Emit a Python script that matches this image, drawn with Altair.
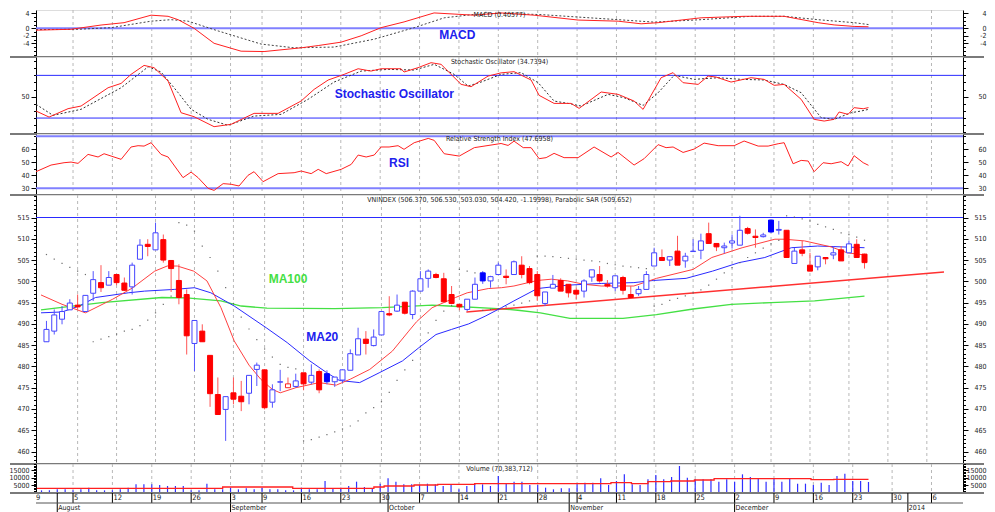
import json
import altair as alt
import pandas as pd

FONT = "Liberation Sans Narrow, DejaVu Sans Condensed, Liberation Sans, Arial, sans-serif"

# ---------------- data (trading-day index: 0 = Mon 29 Jul 2013) ----------------
days = list(range(1, 107))
opens = [485.8, 488.3, 491.1, 493.3, 494.4, 492.9, 497.2, 499.7, 499.1, 501.6,
         499.6, 498.7, 505.2, 508.7, 507.4, 509.8, 504.9, 500.2, 496.9, 485.4,
         488.3, 482.6, 473.4, 469.9, 473.8, 473.0, 473.7, 479.3, 479.2, 471.6,
         476.3, 475.0, 475.3, 478.5, 476.3, 478.8, 478.3, 476.4, 476.8, 479.1,
         482.7, 486.4, 484.9, 487.4, 492.4, 493.0, 495.1, 492.2, 497.7, 500.7,
         501.6, 500.6, 496.9, 494.6, 493.4, 495.8, 502.0, 500.1, 501.6, 501.2,
         501.6, 503.8, 503.0, 501.6, 494.8, 498.4, 500.2, 499.3, 497.9, 497.7,
         501.0, 501.6, 499.3, 498.5, 500.9, 496.9, 497.1, 498.1, 503.6, 505.6,
         505.0, 507.1, 504.8, 507.0, 507.3, 511.2, 508.9, 507.9, 509.0, 508.5,
         512.4, 510.6, 510.5, 514.4, 512.0, 512.0, 504.2, 507.4, 503.8, 503.4,
         505.6, 506.2, 507.4, 506.7, 508.7, 506.4]
highs = [490.7, 493.4, 494.2, 495.8, 496.9, 496.7, 502.4, 503.8, 502.4, 501.6,
         500.9, 504.4, 509.9, 509.9, 513.8, 511.0, 505.0, 504.0, 498.1, 490.8,
         489.9, 482.6, 477.4, 472.9, 477.4, 476.6, 477.9, 480.9, 479.2, 475.8,
         479.2, 477.4, 478.3, 478.5, 480.5, 479.3, 479.1, 477.5, 479.2, 484.0,
         489.1, 488.3, 488.7, 492.9, 496.5, 496.9, 495.1, 497.9, 502.4, 502.8,
         502.0, 502.0, 498.9, 494.6, 495.8, 500.9, 502.4, 501.3, 504.4, 502.8,
         504.9, 505.9, 503.6, 502.4, 497.5, 501.5, 500.7, 499.3, 498.5, 500.5,
         502.7, 503.6, 500.3, 501.3, 501.3, 498.9, 498.9, 502.4, 507.9, 507.5,
         505.8, 510.7, 506.7, 509.9, 511.2, 513.8, 508.9, 509.1, 511.0, 515.4,
         512.8, 512.2, 511.4, 514.4, 514.2, 512.0, 507.9, 509.5, 506.7, 505.9,
         505.7, 508.3, 508.3, 509.6, 509.9, 506.5]
lows = [485.8, 487.5, 489.9, 493.3, 493.4, 492.9, 495.4, 497.5, 499.1, 499.1,
        497.7, 496.9, 505.2, 505.9, 507.4, 504.4, 497.5, 494.6, 482.8, 478.9,
        485.8, 470.5, 468.7, 462.5, 471.1, 469.5, 471.1, 475.4, 469.9, 470.3,
        474.2, 475.0, 475.0, 474.4, 475.8, 473.7, 475.8, 475.2, 476.2, 479.1,
        482.7, 482.8, 484.7, 487.4, 491.8, 492.8, 492.2, 491.1, 497.7, 498.5,
        500.7, 495.2, 494.6, 493.2, 493.0, 495.8, 499.4, 498.5, 501.6, 499.3,
        501.6, 500.7, 499.3, 495.4, 494.2, 498.4, 497.7, 496.2, 495.8, 496.2,
        499.9, 499.7, 498.5, 497.7, 496.9, 496.2, 496.6, 498.1, 503.6, 504.9,
        503.6, 503.8, 503.2, 507.0, 505.2, 508.9, 507.1, 506.6, 507.7, 508.5,
        511.0, 507.9, 510.3, 511.4, 511.0, 505.6, 504.2, 505.9, 502.4, 502.6,
        504.0, 505.2, 504.8, 506.7, 505.6, 503.0]
closes = [488.7, 492.1, 492.9, 494.9, 494.0, 496.7, 500.4, 498.5, 500.9, 499.7,
          497.9, 503.8, 508.5, 508.2, 511.4, 505.0, 503.0, 496.2, 487.2, 490.8,
          485.8, 473.6, 468.7, 472.9, 472.3, 471.7, 477.9, 480.3, 470.3, 474.5,
          476.4, 475.9, 476.6, 475.9, 477.9, 474.5, 476.4, 477.5, 479.2, 483.0,
          486.5, 485.4, 486.9, 492.9, 492.1, 494.4, 492.5, 497.7, 500.6, 502.4,
          500.9, 495.2, 494.8, 494.0, 495.8, 499.3, 500.1, 501.1, 503.8, 500.9,
          504.6, 501.6, 499.7, 496.6, 497.5, 499.3, 497.7, 497.3, 497.0, 500.1,
          502.7, 500.1, 498.9, 501.3, 497.9, 496.2, 498.1, 501.6, 506.7, 504.9,
          505.8, 503.8, 505.9, 507.1, 509.5, 508.9, 508.1, 508.3, 509.5, 512.0,
          511.3, 510.3, 510.9, 511.6, 512.2, 505.6, 507.1, 506.6, 502.4, 505.9,
          505.3, 506.7, 504.8, 508.8, 505.6, 504.4]
volumes = [1362, 1362, 2043, 2043, 1362, 2043, 3178, 1362, 1362, 1362,
           2043, 3178, 5448, 5448, 5448, 4994, 4313, 4313, 4313, 1362,
           1362, 5902, 2043, 2043, 3178, 2043, 2724, 2043, 3178, 2043,
           2043, 1362, 1362, 3178, 2043, 2043, 7718, 2724, 3178, 4313,
           7264, 3632, 2724, 5902, 9534, 7264, 5448, 5448, 4994, 5902,
           5448, 4313, 5448, 2043, 4313, 5902, 5448, 4313, 11123, 5902,
           7264, 7264, 4994, 4994, 3178, 2043, 2724, 2724, 5448, 6583,
           6583, 9534, 4994, 7718, 12258, 5448, 4994, 8853, 11804, 8853,
           10442, 17933, 9988, 8853, 8853, 8853, 7264, 8853, 7264, 12258,
           10442, 9534, 7264, 9534, 7264, 9534, 5902, 5902, 4994, 6583,
           4994, 11123, 12712, 7718, 7718, 7040]
sar = [506.3, 505.2, 504.2, 503.3, 502.4, 501.6, 485.8, 486.4, 487.0, 487.6,
       488.3, 488.7, 489.6, 490.9, 492.6, 494.6, 496.5, 513.8, 513.2, 511.8,
       508.3, 505.6, 502.4, 498.5, 494.8, 491.6, 488.8, 486.3, 484.1, 482.2,
       480.5, 479.8, 479.4, 462.5, 462.8, 463.4, 464.0, 464.6, 465.3, 466.0,
       467.2, 469.1, 470.3, 471.7, 473.9, 476.7, 479.2, 481.4, 484.0, 487.9,
       490.8, 493.0, 494.3, 502.8, 502.4, 502.0, 493.2, 493.4, 493.6, 494.0,
       494.4, 494.9, 495.4, 505.9, 505.9, 505.8, 505.6, 505.4, 505.2, 505.0,
       504.8, 504.6, 504.2, 503.9, 503.6, 503.4, 503.2, 503.0, 494.2, 494.6,
       495.5, 496.0, 496.6, 497.3, 498.0, 499.1, 500.5, 502.0, 503.2, 504.4,
       505.6, 506.7, 507.8, 508.8, 509.6, 515.4, 515.1, 514.7, 514.2, 513.4,
       512.8, 512.2, 511.4, 511.0, 510.4, 509.65]

ma_fast_i = [0.3, 3.0, 6.0, 9.5, 12.0, 14.9, 16.5, 17.8, 19.9, 21.6, 23.4, 25.1, 27.0,
             28.5, 30.0, 31.0, 33.0, 36.0, 38.2, 40.0, 42.5, 45.4, 47.5, 48.5, 50.5, 53.5,
             55.0, 57.7, 59.4, 61.0, 64.0, 65.8, 67.9, 70.0, 72.2, 76.4, 79.3, 84.0, 86.4,
             90.3, 94.5, 95.7, 98.3, 101.7, 103.8, 106.0]
ma_fast_v = [496.8, 494.6, 492.6, 495.8, 498.4, 502.4, 503.6, 503.6, 502.4, 500.1, 493.8,
             486.0, 480.3, 477.0, 474.6, 473.8, 475.0, 476.2, 475.6, 477.0, 479.3, 483.6,
             488.3, 490.5, 493.8, 496.2, 497.3, 498.3, 498.5, 498.9, 500.2, 500.5, 500.1,
             499.3, 498.9, 498.9, 500.7, 502.8, 505.6, 507.9, 509.9, 509.9, 509.5, 508.1,
             506.7, 506.2]
ma20_i = [0.3, 3.0, 5.2, 7.3, 11.5, 13.6, 17.4, 20.0, 22.1, 25.1, 29.2, 31.9, 34.8, 37.0,
          38.6, 41.2, 43.7, 46.7, 48.8, 51.0, 53.0, 55.2, 57.3, 59.4, 61.0, 64.0, 67.9,
          72.2, 76.4, 78.9, 83.1, 86.5, 89.9, 93.2, 96.6, 100.0, 103.0, 106.0]
ma20_v = [492.6, 492.8, 494.2, 496.2, 497.3, 497.7, 498.1, 498.5, 497.3, 494.2, 489.1,
          485.6, 481.3, 478.5, 476.7, 476.2, 478.5, 481.3, 484.4, 487.5, 488.7, 490.0,
          491.8, 493.8, 495.4, 498.3, 499.1, 499.5, 499.7, 500.2, 500.7, 502.4, 504.4,
          505.6, 507.9, 508.3, 508.1, 507.9]
ma100_i = [0.3, 8.1, 15.8, 19.0, 23.4, 26.0, 29.3, 38.0, 44.1, 50.5, 52.6, 58.9, 61.5,
           64.4, 68.2, 75.0, 79.3, 84.0, 88.9, 94.0, 99.6, 103.0, 106.0]
ma100_v = [493.3, 495.0, 496.2, 496.1, 495.4, 494.2, 493.7, 493.6, 493.8, 494.4, 494.2,
           493.6, 493.2, 492.6, 491.3, 491.3, 492.2, 493.5, 494.6, 495.0, 495.4, 496.0,
           496.5]
trend_i = [54.9, 116.2]
trend_v = [492.8, 502.2]

macd_i = [0.3, 4.75, 8.56, 11.48, 14.91, 17.07, 18.34, 20.37, 22.91, 26.34, 29.26, 33.97,
          36.13, 39.03, 41.58, 44.11, 47.03, 50.84, 53.38, 55.92, 59.35, 63.54, 69.13,
          74.21, 77.13, 79.29, 84.75, 90.21, 95.29, 99.6, 101.64, 104.18, 106.0]
macd_v = [-0.5, -0.26, 0.87, 1.5, 3.5, 3.2, 2.3, 0.0, -4.0, -6.1, -6.2, -5.2, -4.6, -3.7,
          -2.0, 0.17, 1.7, 4.1, 3.8, 3.5, 4.1, 3.5, 2.2, 1.9, 1.2, 1.5, 2.8, 3.2, 3.2,
          1.5, 0.9, 0.5, 0.41]
signal_i = [0.3, 5.64, 9.83, 14.91, 17.45, 19.61, 23.42, 28.88, 33.07, 38.15, 43.24,
            48.32, 52.13, 55.92, 59.35, 64.44, 69.13, 74.21, 78.78, 84.75, 91.1, 95.29,
            99.6, 104.18, 106.0]
signal_v = [-0.35, -0.26, 0.17, 1.9, 2.3, 1.9, -0.7, -4.2, -5.2, -5.0, -2.9, 0.17, 2.8,
            3.7, 4.0, 3.65, 3.0, 2.3, 1.65, 2.3, 3.2, 3.2, 2.3, 1.5, 1.0]

stk_i = [0.3, 1.96, 4.37, 6.02, 9.45, 11.11, 12.37, 14.02, 15.29, 17.07, 18.72, 20.37,
         22.91, 25.07, 27.99, 31.04, 33.97, 35.61, 37.39, 39.42, 41.2, 42.84, 44.11,
         46.65, 47.03, 48.8, 50.46, 51.73, 54.27, 55.54, 57.7, 59.35, 61.0, 63.16, 64.18,
         66.08, 68.24, 69.26, 72.06, 74.21, 76.24, 77.38, 79.67, 81.19, 82.46, 84.37,
         85.64, 86.65, 88.55, 91.1, 92.75, 94.02, 95.29, 97.45, 99.1, 100.37, 101.64,
         102.27, 103.41, 104.18, 105.33, 106.0]
stk_v = [29.9, 21.4, 33.2, 36.9, 62.6, 68.7, 81.4, 94.0, 90.8, 72.0, 27.5, 21.9, 7.9,
         11.2, 26.6, 26.6, 44.0, 60.3, 73.4, 81.4, 89.3, 86.0, 89.3, 89.3, 84.7, 90.8,
         97.8, 95.5, 67.4, 64.1, 79.0, 83.5, 85.2, 73.5, 51.9, 40.6, 40.6, 33.6, 56.6,
         53.3, 43.9, 32.2, 76.7, 83.8, 69.7, 67.3, 79.0, 77.6, 70.6, 76.7, 74.4, 66.0,
         67.3, 46.3, 18.2, 15.8, 18.2, 28.5, 25.2, 34.6, 33.1, 34.7]
std_i = [0.3, 2.46, 6.02, 11.11, 14.55, 16.18, 18.34, 19.99, 22.15, 24.69, 27.99, 31.42,
         34.84, 38.15, 41.58, 45.01, 48.32, 50.86, 53.4, 55.16, 56.81, 59.35, 61.9,
         64.06, 66.08, 67.86, 69.51, 72.94, 74.97, 77.38, 79.29, 81.32, 83.86, 86.91,
         89.83, 92.75, 95.29, 97.45, 99.99, 101.64, 103.8, 105.07, 106.0]
std_v = [39.3, 23.8, 32.3, 62.6, 92.1, 84.7, 55.7, 32.3, 18.2, 9.8, 22.8, 25.2, 46.3,
         70.6, 86.0, 88.4, 87.5, 95.5, 81.4, 65.0, 70.6, 81.4, 83.8, 69.7, 43.9, 40.6,
         36.9, 53.3, 48.6, 37.8, 55.6, 80.0, 74.4, 76.7, 74.4, 73.5, 67.3, 55.6, 20.5,
         18.2, 27.5, 29.9, 32.2]

rsi_i = [0.3, 2.21, 3.86, 4.75, 5.64, 6.91, 8.18, 8.94, 11.11, 12.37, 13.26, 14.02,
         14.91, 16.18, 17.07, 18.97, 19.99, 20.88, 22.15, 22.91, 24.06, 25.07, 26.08,
         27.22, 27.99, 29.13, 31.04, 33.07, 33.97, 35.24, 36.13, 37.15, 39.05, 40.32,
         41.2, 42.22, 43.24, 44.11, 45.13, 46.27, 47.03, 48.32, 50.1, 50.86, 52.13,
         54.04, 55.95, 59.35, 60.24, 61.0, 62.16, 63.16, 64.18, 65.07, 66.08, 67.35,
         69.13, 71.16, 73.32, 74.21, 76.24, 77.51, 79.29, 80.3, 81.19, 82.46, 83.86,
         85.13, 86.91, 88.94, 90.21, 91.99, 93.26, 94.53, 95.29, 96.43, 97.45, 98.34,
         99.1, 100.24, 101.26, 102.53, 103.41, 104.18, 105.33, 106.0]
rsi_v = [42.8, 47.9, 49.7, 50.2, 49.2, 56.1, 54.1, 56.6, 52.3, 61.8, 62.8, 62.5, 65.1,
         56.1, 54.1, 38.2, 42.5, 38.2, 30.0, 28.4, 33.6, 33.1, 31.8, 40.0, 42.8, 35.1,
         41.3, 42.0, 43.3, 41.3, 44.6, 41.3, 44.6, 48.4, 55.6, 54.1, 55.6, 61.8, 61.8,
         62.8, 60.0, 65.1, 68.4, 66.9, 56.6, 54.8, 61.3, 64.5, 63.0, 66.3, 61.3, 61.3,
         52.8, 53.6, 56.9, 53.6, 53.6, 61.8, 54.1, 57.6, 47.9, 52.8, 63.6, 61.3, 61.8,
         57.6, 60.2, 64.8, 62.8, 62.8, 66.4, 62.5, 62.5, 64.3, 65.1, 48.9, 51.5, 51.0,
         42.8, 49.7, 48.9, 50.5, 47.2, 55.1, 49.7, 47.7]

vma_i = [0.4, 24.0, 32.9, 43.2, 44.5, 48.3, 51.3, 56.0, 73.3, 75.9, 78.0, 80.9, 83.9,
         86.4, 98.7, 101.6, 106.0]
vma_v = [2724, 3632, 2724, 3632, 4313, 4994, 5448, 5902, 6583, 5902, 7264, 7718, 8399,
         9307, 8626, 8853, 8853]

week_days = [0, 5, 10, 15, 20, 25, 29, 34, 39, 44, 49, 54, 59, 64, 69, 74, 79, 84, 89,
             94, 99, 104, 109, 114]
week_labels = ["29", "5", "12", "19", "26", "3", "9", "16", "23", "30", "7", "14", "21",
               "28", "4", "11", "18", "25", "2", "9", "16", "23", "30", "6"]
month_days = [3, 25, 45, 68, 89, 111]
month_labels = ["August", "September", "October", "November", "December", "2014"]

# ---------------- helpers ----------------
X_DOM = [0.3, 118.0]
W = 927


def X(field):
    return alt.X(f"{field}:Q", scale=alt.Scale(domain=X_DOM, nice=False, zero=False), axis=None)


def y_axis(orient, ticks, labels):
    test = "indexof(%s, datum.value) >= 0" % json.dumps(labels)
    kw = dict(orient=orient, values=ticks,
              labelExpr="%s ? toString(datum.value) : ''" % test,
              tickSize={"condition": {"test": test, "value": 5}, "value": 2.5},
              tickColor="#000", domainColor="#000", domainWidth=1, tickWidth=1,
              labelFont=FONT, labelFontSize=7, labelColor="#222", grid=False, title=None,
              labelOverlap=False, labelFlush=False, labelBound=False)
    if orient == "left":
        kw.update(labelPadding=2)
    else:
        kw.update(labelPadding=18, labelAlign="right")
    return alt.Axis(**kw)


def panel(height, ydom, ticks, labels, title, build):
    scale = alt.Scale(domain=ydom, nice=False, zero=False)

    def ys(field):
        return alt.Y(f"{field}:Q", scale=scale, axis=None)

    ax_df = pd.DataFrame({"v": [(ydom[0] + ydom[1]) / 2]})
    left = alt.Chart(ax_df).mark_rule(opacity=0).encode(
        x=alt.value(W / 2), y=alt.Y("v:Q", scale=scale, axis=y_axis("left", ticks, labels)))
    right = alt.Chart(ax_df).mark_rule(opacity=0).encode(
        x=alt.value(W / 2), y=alt.Y("v:Q", scale=scale, axis=y_axis("right", ticks, labels)))
    grid = alt.Chart(pd.DataFrame({"i": week_days[1:]})).mark_rule(
        color="#b8b8b8", strokeDash=[3, 3], strokeWidth=1, clip=True).encode(
        x=X("i"), y=alt.value(0), y2=alt.value(height))
    sep = alt.Chart(pd.DataFrame({"a": [0]})).mark_rule(color="#7a7a7a", strokeWidth=2).encode(
        x=alt.value(-26), x2=alt.value(W + 21), y=alt.value(height))
    ttl = alt.Chart(pd.DataFrame({"t": [title]})).mark_text(
        font=FONT, fontSize=7, color="#222", baseline="middle").encode(
        x=alt.value(W / 2), y=alt.value(5), text="t:N")
    layers = [left, right, grid] + build(ys) + [sep, ttl]
    return alt.layer(*layers).resolve_scale(y="independent").properties(width=W, height=height)


def hline(levels, ys, color, width):
    return alt.Chart(pd.DataFrame({"v": levels})).mark_rule(color=color, strokeWidth=width).encode(
        y=ys("v"), x=alt.value(0), x2=alt.value(W))


def line(idx, vals, ys, color, width=1, dash=None, interp="linear"):
    kw = dict(color=color, strokeWidth=width, interpolate=interp, clip=True)
    if dash:
        kw["strokeDash"] = dash
    return alt.Chart(pd.DataFrame({"i": idx, "v": vals})).mark_line(**kw).encode(x=X("i"), y=ys("v"))


def label(txt, i, v, ys, color, size=12):
    return alt.Chart(pd.DataFrame({"i": [i], "v": [v], "t": [txt]})).mark_text(
        font="Liberation Sans, Arial, sans-serif", fontSize=size, fontWeight="bold", color=color).encode(
        x=X("i"), y=ys("v"), text="t:N")


# ---------------- candle table ----------------
prev = [opens[0]] + closes[:-1]
col = ["#0000ff" if c >= p else "#ff0000" for c, p in zip(closes, prev)]
outline = ["#4444ff" if c >= p else "#ff2020" for c, p in zip(closes, prev)]
wick = ["#5555ff" if c >= p else "#ff5555" for c, p in zip(closes, prev)]
fillc = [cc if c < o else "#ffffff" for cc, c, o in zip(col, closes, opens)]
candles = pd.DataFrame({"i": days, "open": opens, "high": highs, "low": lows, "close": closes,
                        "stroke": [o if f == "#ffffff" else c for o, f, c in zip(outline, fillc, col)],
                        "fill": fillc, "wick": wick, "vol": volumes, "sar": sar})

# ---------------- panels ----------------
macd_panel = panel(47, [-7.65, 4.88], list(range(-7, 5)), [4, 0, -2, -4], "MACD (0.40577)",
                   lambda ys: [hline([0], ys, "#8080ff", 2),
                               line(signal_i, signal_v, ys, "#444444", 1, [2, 2]),
                               line(macd_i, macd_v, ys, "#ff2020", 1),
                               label("MACD", 53.8, -1.8, ys, "#2020ee")])

stoch_panel = panel(77, [-2.4, 105.8], list(range(0, 101, 10)), [50], "Stochastic Oscillator (34.7394)",
                    lambda ys: [hline([20, 80], ys, "#2a2aff", 1),
                                line(std_i, std_v, ys, "#333333", 1, [2, 2]),
                                line(stk_i, stk_v, ys, "#ff2020", 1),
                                label("Stochastic Oscillator", 45.8, 54.2, ys, "#2020ee")])

rsi_panel = panel(61, [24.85, 71.8], list(range(25, 71, 5)), [30, 40, 50, 60], "Relative Strength Index (47.6958)",
                  lambda ys: [hline([30, 70], ys, "#8080ff", 2),
                              line(rsi_i, rsi_v, ys, "#ff2020", 1),
                              label("RSI", 46.4, 49.7, ys, "#2020ee")])


def price_layers(ys):
    wicks = alt.Chart(candles).mark_rule(strokeWidth=1).encode(
        x=X("i"), y=ys("low"), y2="high:Q", color=alt.Color("wick:N", scale=None))
    bodies = alt.Chart(candles).mark_bar(size=5, strokeWidth=1).encode(
        x=X("i"), y=ys("open"), y2="close:Q",
        fill=alt.Fill("fill:N", scale=None), stroke=alt.Stroke("stroke:N", scale=None))
    dots = alt.Chart(candles).mark_square(size=1.5, color="#606060", opacity=0.9).encode(
        x=X("i"), y=ys("sar"))
    return [hline([515], ys, "#2a2aff", 1),
            line(ma100_i, ma100_v, ys, "#44e044", 1.3),
            line(trend_i, trend_v, ys, "#ff3030", 1.5),
            line(ma20_i, ma20_v, ys, "#2a2aff", 1),
            line(ma_fast_i, ma_fast_v, ys, "#ff4040", 1),
            wicks, bodies, dots,
            label("MA100", 32.0, 500.5, ys, "#44e044"),
            label("MA20", 36.4, 486.8, ys, "#2020ee")]


price_panel = panel(269, [457.07, 520.29], list(range(458, 521)), list(range(460, 516, 5)),
                    "VNINDEX (506.370, 506.530, 503.030, 504.420, -1.19998), Parabolic SAR (509.652)",
                    price_layers)


def vol_layers(ys):
    bars = alt.Chart(candles).mark_rule(color="#2f2fff", strokeWidth=1.2).encode(
        x=X("i"), y=ys("vol"), y2=alt.value(28.35))
    return [bars, line(vma_i, vma_v, ys, "#ff2020", 1.3, interp="step-after")]


vol_panel = panel(29, [-442, 19286], list(range(0, 19001, 1000)), [5000, 10000, 15000],
                  "Volume (70,383,712)", vol_layers)

# ---------------- date axis ----------------
wk = pd.DataFrame({"i": week_days, "t": week_labels})
wk_first = wk.iloc[:1]
wk_rest = wk.iloc[1:]
mo = pd.DataFrame({"i": month_days, "t": month_labels})
date_panel = alt.layer(
    alt.Chart(wk).mark_rule(color="#000", strokeWidth=1, clip=True).encode(
        x=X("i"), y=alt.value(0), y2=alt.value(10)),
    alt.Chart(mo).mark_rule(color="#000", strokeWidth=1, clip=True).encode(
        x=X("i"), y=alt.value(0), y2=alt.value(19)),
    alt.Chart(pd.DataFrame({"a": [0]})).mark_rule(color="#555", strokeWidth=1).encode(
        x=alt.value(0), x2=alt.value(W), y=alt.value(10)),
    alt.Chart(wk_rest).mark_text(font=FONT, fontSize=7.5, color="#222", align="left",
                                 baseline="middle", dx=1, clip=True).encode(
        x=X("i"), y=alt.value(5), text="t:N"),
    alt.Chart(wk_first).mark_text(font=FONT, fontSize=7.5, color="#222", align="left",
                                  baseline="middle", dx=-2, clip=True).encode(
        x=X("i"), y=alt.value(5), text="t:N"),
    alt.Chart(mo).mark_text(font=FONT, fontSize=7, color="#222", align="left",
                            baseline="middle", dx=1, clip=True).encode(
        x=X("i"), y=alt.value(14.5), text="t:N"),
).properties(width=W, height=20, view=alt.ViewBackground(stroke="transparent"))

chart = alt.vconcat(macd_panel, stoch_panel, rsi_panel, price_panel, vol_panel, date_panel,
                    spacing=0, bounds="flush").properties(
    padding={"left": 0, "top": 0, "right": 0, "bottom": 0}
).configure_view(stroke="#7a7a7a", strokeWidth=2).configure(font=FONT)

chart.save("out.html", embed_options={"renderer": "svg", "actions": False})
